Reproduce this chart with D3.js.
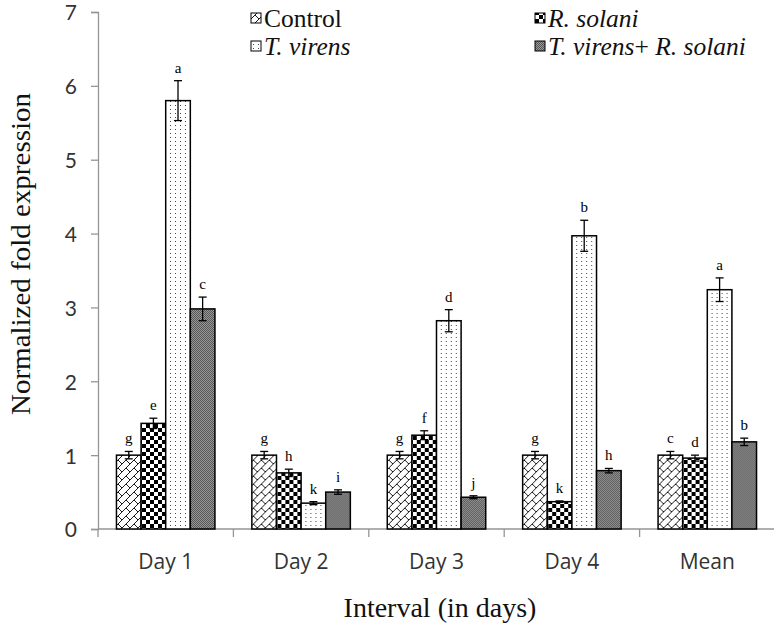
<!DOCTYPE html>
<html>
<head>
<meta charset="utf-8">
<script src="https://cdn.jsdelivr.net/npm/d3@7"></script>
<style>
  html, body { margin: 0; padding: 0; background: #fff; }
  svg { display: block; }
</style>
</head>
<body>
<svg id="chart" width="774" height="636"></svg>
<script>
// ---- data ----
const categories = ["Day 1", "Day 2", "Day 3", "Day 4", "Mean"];
const seriesNames = ["Control", "R. solani", "T. virens", "T. virens+ R. solani"];
const controlValues = [1.00, 1.00, 1.00, 1.00, 1.00];
const rsolaniValues = [1.43, 0.76, 1.27, 0.37, 0.96];
const tvirensValues = [5.80, 0.35, 2.82, 3.97, 3.24];
const comboValues   = [2.98, 0.50, 0.43, 0.79, 1.18];
const controlErr = [0.05, 0.05, 0.05, 0.05, 0.05];
const rsolaniErr = [0.07, 0.05, 0.06, 0.01, 0.04];
const tvirensErr = [0.27, 0.02, 0.15, 0.21, 0.16];
const comboErr   = [0.16, 0.03, 0.02, 0.03, 0.05];
const controlLetters = ["g", "g", "g", "g", "c"];
const rsolaniLetters = ["e", "h", "f", "k", "d"];
const tvirensLetters = ["a", "k", "d", "b", "a"];
const comboLetters   = ["c", "i", "j", "h", "b"];
const yTicks = [0, 1, 2, 3, 4, 5, 6, 7];

const seriesValues = [controlValues, rsolaniValues, tvirensValues, comboValues];
const seriesErr = [controlErr, rsolaniErr, tvirensErr, comboErr];
const seriesLetters = [controlLetters, rsolaniLetters, tvirensLetters, comboLetters];

// ---- layout ----
const svg = d3.select("#chart");
const mLeft = 98, mRight = 775, mTop = 12, mBottom = 529;

const defs = svg.append("defs");
// Control: diagonal brick
const p0 = defs.append("pattern").attr("id", "pat0").attr("patternUnits", "userSpaceOnUse")
  .attr("width", 8).attr("height", 8);
p0.append("rect").attr("width", 8).attr("height", 8).attr("fill", "#fff");
p0.append("path").attr("d", "M-2,2 L2,-2 M0,8 L8,0 M6,10 L10,6 M4,4 L8,8")
  .attr("stroke", "#000").attr("stroke-width", 0.9).attr("fill", "none");
// R. solani: large checkerboard
const p1 = defs.append("pattern").attr("id", "pat1").attr("patternUnits", "userSpaceOnUse")
  .attr("width", 8).attr("height", 8);
p1.append("rect").attr("width", 8).attr("height", 8).attr("fill", "#fff");
p1.append("rect").attr("width", 4).attr("height", 4).attr("fill", "#000");
p1.append("rect").attr("x", 4).attr("y", 4).attr("width", 4).attr("height", 4).attr("fill", "#000");
// T. virens: sparse dots
const p2 = defs.append("pattern").attr("id", "pat2").attr("patternUnits", "userSpaceOnUse")
  .attr("width", 5).attr("height", 4);
p2.append("rect").attr("width", 5).attr("height", 4).attr("fill", "#fff");
p2.append("rect").attr("x", 2).attr("y", 1).attr("width", 1).attr("height", 1).attr("fill", "#444");
// combo: fine gray checker
const p3 = defs.append("pattern").attr("id", "pat3").attr("patternUnits", "userSpaceOnUse")
  .attr("width", 2).attr("height", 2);
p3.append("rect").attr("width", 2).attr("height", 2).attr("fill", "#999");
p3.append("rect").attr("width", 1).attr("height", 1).attr("fill", "#555");
p3.append("rect").attr("x", 1).attr("y", 1).attr("width", 1).attr("height", 1).attr("fill", "#555");

const x0 = d3.scaleBand().domain(categories).range([mLeft, mRight]).paddingInner(0).paddingOuter(0);
const x1 = d3.scaleBand().domain(d3.range(4)).range([0, x0.bandwidth()]).paddingOuter(0.75).paddingInner(0);
const y = d3.scaleLinear().domain([0, 7]).range([mBottom, mTop]);

// axes
const axisColor = "#959595";
const yAxis = svg.append("g").attr("transform", `translate(${mLeft},0)`)
  .call(d3.axisLeft(y).tickValues(yTicks).tickSize(7).tickPadding(14).tickFormat(d3.format("d")));
yAxis.select(".domain").attr("stroke", axisColor).attr("stroke-width", 1.3);
yAxis.selectAll(".tick line").attr("stroke", axisColor).attr("stroke-width", 1.3);
yAxis.selectAll(".tick text").attr("font-family", "Lato, sans-serif").attr("font-size", 21)
  .attr("dy", "0.38em").attr("fill", "#333");

const xAxisG = svg.append("g").attr("transform", `translate(0,${mBottom})`);
xAxisG.append("line").attr("x1", mLeft).attr("x2", mRight).attr("stroke", axisColor).attr("stroke-width", 1.3);
const xBounds = categories.map(c => x0(c)).concat([mRight]);
xAxisG.selectAll("line.sep").data(xBounds).join("line").attr("class", "sep")
  .attr("x1", d => d).attr("x2", d => d).attr("y1", 0).attr("y2", 8)
  .attr("stroke", axisColor).attr("stroke-width", 1.3);
xAxisG.selectAll("text.cat").data(categories).join("text").attr("class", "cat")
  .attr("x", d => x0(d) + x0.bandwidth() / 2).attr("y", 40)
  .attr("text-anchor", "middle").attr("font-family", "'Open Sans', sans-serif")
  .attr("font-size", 21).attr("fill", "#333").text(d => d);

// bars
const groups = svg.append("g").selectAll("g").data(categories).join("g")
  .attr("transform", d => `translate(${x0(d)},0)`);
const cells = groups.selectAll("g.cell")
  .data((c, ci) => seriesValues.map((vals, si) => ({ si, v: vals[ci], e: seriesErr[si][ci], l: seriesLetters[si][ci] })))
  .join("g").attr("class", "cell");
cells.append("rect")
  .attr("x", d => x1(d.si)).attr("width", x1.bandwidth())
  .attr("y", d => y(d.v)).attr("height", d => y(0) - y(d.v))
  .attr("fill", d => `url(#pat${d.si})`).attr("stroke", "#000").attr("stroke-width", 1.5);
// error bars
const cx = d => x1(d.si) + x1.bandwidth() / 2;
cells.append("line").attr("x1", cx).attr("x2", cx)
  .attr("y1", d => y(d.v + d.e)).attr("y2", d => y(d.v - d.e))
  .attr("stroke", "#000").attr("stroke-width", 1.3);
cells.append("line").attr("x1", d => cx(d) - 4).attr("x2", d => cx(d) + 4)
  .attr("y1", d => y(d.v + d.e)).attr("y2", d => y(d.v + d.e))
  .attr("stroke", "#000").attr("stroke-width", 1.3);
cells.append("line").attr("x1", d => cx(d) - 4).attr("x2", d => cx(d) + 4)
  .attr("y1", d => y(d.v - d.e)).attr("y2", d => y(d.v - d.e))
  .attr("stroke", "#000").attr("stroke-width", 1.3);
cells.append("text").attr("x", cx).attr("y", d => y(d.v + d.e) - 8)
  .attr("text-anchor", "middle").attr("font-family", "'Liberation Serif', serif")
  .attr("font-size", 15).attr("fill", "#000").text(d => d.l);

// axis titles
svg.append("text").attr("transform", "translate(30,254) rotate(-90)")
  .attr("text-anchor", "middle").attr("font-family", "'Liberation Serif', serif")
  .attr("font-size", 28).attr("textLength", 322).attr("lengthAdjust", "spacingAndGlyphs")
  .attr("fill", "#111").text("Normalized fold expression");
svg.append("text").attr("x", 440).attr("y", 617)
  .attr("text-anchor", "middle").attr("font-family", "'Liberation Serif', serif")
  .attr("font-size", 28).attr("fill", "#111").text("Interval (in days)");

// legend
const legendPos = [[251, 27], [535, 27], [251, 55], [535, 55]];
const leg = svg.append("g").selectAll("g").data(seriesNames).join("g")
  .attr("transform", (d, i) => `translate(${legendPos[i][0]},${legendPos[i][1]})`);
leg.append("rect").attr("x", 0).attr("y", -14).attr("width", 10).attr("height", 10)
  .attr("fill", (d, i) => `url(#pat${i})`).attr("stroke", "#000").attr("stroke-width", 1);
leg.each(function(d, i) {
  const t = d3.select(this).append("text").attr("x", 13).attr("y", 0)
    .attr("font-family", "'Liberation Serif', serif").attr("font-size", 25.5).attr("fill", "#111");
  if (i === 0) t.text(d);
  else if (i === 3) {
    t.append("tspan").attr("font-style", "italic").text("T. virens");
    t.append("tspan").text("+ ");
    t.append("tspan").attr("font-style", "italic").text("R. solani");
  } else t.attr("font-style", "italic").text(d);
});
</script>
</body>
</html>
